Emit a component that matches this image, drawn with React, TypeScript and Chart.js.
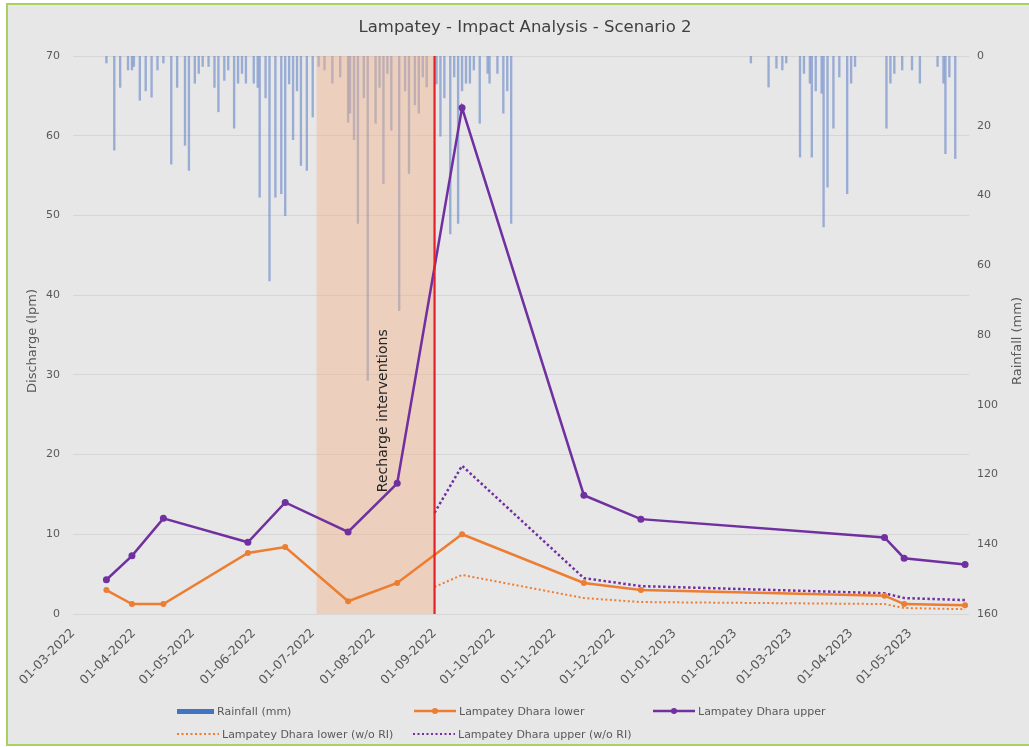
import React, { useEffect, useRef } from 'react';
import { Chart, registerables } from 'chart.js';

Chart.register(...registerables);

const FONT = '"DejaVu Sans", sans-serif';
const TEXT = '#595959';

// ---- data ----
const axisStart = '2022-03-01';
const axisEnd = '2023-05-31';

const xTickDates = [
  '2022-03-01', '2022-04-01', '2022-05-01', '2022-06-01', '2022-07-01', '2022-08-01',
  '2022-09-01', '2022-10-01', '2022-11-01', '2022-12-01', '2023-01-01', '2023-02-01',
  '2023-03-01', '2023-04-01', '2023-05-01',
];
const xTickLabels = [
  '01-03-2022', '01-04-2022', '01-05-2022', '01-06-2022', '01-07-2022', '01-08-2022',
  '01-09-2022', '01-10-2022', '01-11-2022', '01-12-2022', '01-01-2023', '01-02-2023',
  '01-03-2023', '01-04-2023', '01-05-2023',
];

const measureDates = [
  '2022-03-18', '2022-03-31', '2022-04-16', '2022-05-29', '2022-06-17', '2022-07-19',
  '2022-08-13', '2022-09-15', '2022-11-16', '2022-12-15', '2023-04-18', '2023-04-28',
  '2023-05-29',
];
const dharaLower = [3.0, 1.25, 1.25, 7.65, 8.4, 1.6, 3.9, 10.0, 3.9, 3.0, 2.3, 1.25, 1.1];
const dharaUpper = [4.3, 7.3, 12.0, 9.0, 14.0, 10.3, 16.4, 63.5, 14.9, 11.9, 9.6, 7.0, 6.2];

const noRiDates = [
  '2022-09-01', '2022-09-15', '2022-11-16', '2022-12-15', '2023-04-18', '2023-04-28', '2023-05-29',
];
const dharaLowerNoRi = [3.4, 4.9, 2.0, 1.5, 1.25, 0.75, 0.6];
const dharaUpperNoRi = [12.7, 18.6, 4.5, 3.5, 2.6, 2.0, 1.75];

const rechargeStart = '2022-07-03';
const rechargeEnd = '2022-09-01';
const rechargeLabel = 'Recharge interventions';

const rainDates = [
  '2022-03-18', '2022-03-22', '2022-03-25', '2022-03-29', '2022-03-31', '2022-04-01',
  '2022-04-04', '2022-04-07', '2022-04-10', '2022-04-13', '2022-04-16', '2022-04-20',
  '2022-04-23', '2022-04-27', '2022-04-29', '2022-05-02', '2022-05-04', '2022-05-06',
  '2022-05-09', '2022-05-12', '2022-05-14', '2022-05-17', '2022-05-19', '2022-05-22',
  '2022-05-24', '2022-05-26', '2022-05-28', '2022-06-01', '2022-06-03', '2022-06-04',
  '2022-06-07', '2022-06-09', '2022-06-12', '2022-06-15', '2022-06-17', '2022-06-19',
  '2022-06-21', '2022-06-23', '2022-06-25', '2022-06-28', '2022-07-01', '2022-07-04',
  '2022-07-07', '2022-07-11', '2022-07-15', '2022-07-19', '2022-07-20', '2022-07-22',
  '2022-07-24', '2022-07-27', '2022-07-29', '2022-08-02', '2022-08-04', '2022-08-06',
  '2022-08-08', '2022-08-10', '2022-08-14', '2022-08-17', '2022-08-19', '2022-08-22',
  '2022-08-24', '2022-08-26', '2022-08-28', '2022-09-02', '2022-09-04', '2022-09-06',
  '2022-09-09', '2022-09-11', '2022-09-13', '2022-09-15', '2022-09-17', '2022-09-19',
  '2022-09-21', '2022-09-24', '2022-09-28', '2022-09-29', '2022-10-03', '2022-10-06',
  '2022-10-08', '2022-10-10',
  '2023-02-09', '2023-02-18', '2023-02-22', '2023-02-25', '2023-02-27', '2023-03-06',
  '2023-03-08', '2023-03-11', '2023-03-12', '2023-03-14', '2023-03-17', '2023-03-18',
  '2023-03-20', '2023-03-23', '2023-03-26', '2023-03-30', '2023-04-01', '2023-04-03',
  '2023-04-19', '2023-04-21', '2023-04-23', '2023-04-27', '2023-05-02', '2023-05-06',
  '2023-05-15', '2023-05-18', '2023-05-19', '2023-05-21', '2023-05-24',
];
const rainMm = [
  2, 27, 9, 4, 4, 3,
  12.7, 10, 11.8, 4, 2, 31,
  9, 25.6, 32.8, 7.8, 5, 3,
  3, 9, 16, 7, 4, 20.7,
  7.8, 5, 7.8, 7.8, 9, 40.5,
  12, 64.5, 40.5, 39.5, 45.8, 8,
  24, 10, 31.4, 32.8, 17.5, 3,
  4, 7.8, 6, 19, 16.4, 24,
  48, 12, 93, 19.3, 9, 36.6,
  5, 21.3, 73, 10, 33.7, 14,
  16.4, 6, 8.9, 8, 23, 12,
  51, 6, 48, 10, 7.8, 7.8,
  4, 19.3, 5, 7.8, 5, 16.4,
  10, 48,
  2, 8.9, 3.5, 4, 2, 29,
  5, 7.8, 29, 10, 10.7, 49,
  37.6, 20.7, 6, 39.5, 7.8, 3,
  20.7, 7.8, 5, 4, 4, 7.8,
  3, 7.8, 28, 6, 29.4,
];

const leftTicks = { min: 0, max: 70, step: 10 };
const rightTicks = { min: 0, max: 160, step: 20 };

// ---- helpers ----
const DAY = 86400000;
const ORIGIN = Date.UTC(2022, 2, 1);
function dayOf(s: string): number {
  const [y, m, d] = s.split('-').map(Number);
  return (Date.UTC(y, m - 1, d) - ORIGIN) / DAY;
}
const pts = (dates: string[], vals: number[]) => dates.map((d, i) => ({ x: dayOf(d), y: vals[i] }));

const ORANGE = '#ED7D31';
const PURPLE = '#7030A0';
const BLUE = '#4472C4';

const overlayPlugin = {
  id: 'overlay',
  afterDatasetDraw(chart: any, args: any) {
    if (args.index !== 0) return;
    const { ctx, chartArea: a, scales } = chart;
    const x0 = scales.x.getPixelForValue(dayOf(rechargeStart));
    const x1 = scales.x.getPixelForValue(dayOf(rechargeEnd));
    ctx.save();
    ctx.fillStyle = 'rgba(244, 177, 131, 0.42)';
    ctx.fillRect(x0, a.top, x1 - x0, a.bottom - a.top);
    ctx.restore();
  },
  afterDatasetsDraw(chart: any) {
    const { ctx, chartArea: a, scales } = chart;
    const xr = scales.x.getPixelForValue(dayOf(rechargeEnd));
    ctx.save();
    ctx.strokeStyle = '#E5202A';
    ctx.lineWidth = 2.2;
    ctx.beginPath();
    ctx.moveTo(xr, a.top);
    ctx.lineTo(xr, a.bottom);
    ctx.stroke();
    ctx.translate(xr - 51, scales.y.getPixelForValue(25.5));
    ctx.rotate(-Math.PI / 2);
    ctx.fillStyle = '#262626';
    ctx.font = `14px ${FONT}`;
    ctx.textAlign = 'center';
    ctx.textBaseline = 'middle';
    ctx.fillText(rechargeLabel, 0, 0);
    ctx.restore();
  },
  afterDraw(chart: any) {
    const { ctx, chartArea: a } = chart;
    const cy = (a.top + a.bottom) / 2 + 6;
    const drawTitle = (text: string, x: number) => {
      ctx.save();
      ctx.fillStyle = TEXT;
      ctx.font = `13px ${FONT}`;
      ctx.textAlign = 'center';
      ctx.textBaseline = 'middle';
      ctx.translate(x, cy);
      ctx.rotate(-Math.PI / 2);
      ctx.fillText(text, 0, 0);
      ctx.restore();
    };
    drawTitle('Discharge (lpm)', 33);
    drawTitle('Rainfall (mm)', 1018);
  },
};

function LegendLine({ color, dotted, marker }: { color: string; dotted?: boolean; marker?: boolean }) {
  return (
    <svg width={42} height={10} style={{ display: 'block' }}>
      <line
        x1={0}
        y1={5}
        x2={42}
        y2={5}
        stroke={color}
        strokeWidth={dotted ? 2 : 2.5}
        strokeDasharray={dotted ? '2 2.5' : undefined}
      />
      {marker && <circle cx={21} cy={5} r={3} fill={color} />}
    </svg>
  );
}

const legendText: React.CSSProperties = {
  fontFamily: FONT,
  fontSize: 11,
  color: TEXT,
  marginLeft: 3,
  whiteSpace: 'nowrap',
};

function LegendItem({ left, top, swatch, label }: { left: number; top: number; swatch: React.ReactNode; label: string }) {
  return (
    <div style={{ position: 'absolute', left, top: top - 8, height: 16, display: 'flex', alignItems: 'center' }}>
      {swatch}
      <span style={legendText}>{label}</span>
    </div>
  );
}

export default function App() {
  const ref = useRef<HTMLCanvasElement | null>(null);

  useEffect(() => {
    if (!ref.current) return;
    const chart = new Chart(ref.current, {
      type: 'line',
      data: {
        datasets: [
          {
            type: 'bar',
            label: 'Rainfall (mm)',
            data: pts(rainDates, rainMm),
            yAxisID: 'y1',
            backgroundColor: 'rgba(105, 135, 200, 0.62)',
            borderWidth: 0,
            barThickness: 1.7,
            grouped: false,
            order: 10,
          } as any,
          {
            label: 'Lampatey Dhara lower (w/o RI)',
            data: pts(noRiDates, dharaLowerNoRi),
            yAxisID: 'y',
            borderColor: ORANGE,
            borderWidth: 2,
            borderDash: [2, 2.5],
            pointRadius: 0,
            order: 3,
          },
          {
            label: 'Lampatey Dhara upper (w/o RI)',
            data: pts(noRiDates, dharaUpperNoRi),
            yAxisID: 'y',
            borderColor: PURPLE,
            borderWidth: 2.5,
            borderDash: [2.5, 2.5],
            pointRadius: 0,
            order: 2,
          },
          {
            label: 'Lampatey Dhara lower',
            data: pts(measureDates, dharaLower),
            yAxisID: 'y',
            borderColor: ORANGE,
            backgroundColor: ORANGE,
            borderWidth: 2.5,
            pointRadius: 3,
            pointBorderWidth: 0,
            order: 1,
          },
          {
            label: 'Lampatey Dhara upper',
            data: pts(measureDates, dharaUpper),
            yAxisID: 'y',
            borderColor: PURPLE,
            backgroundColor: PURPLE,
            borderWidth: 2.5,
            pointRadius: 3.5,
            pointBorderWidth: 0,
            order: 0,
          },
        ],
      },
      options: {
        animation: false,
        responsive: false,
        devicePixelRatio: 1,
        layout: { padding: { top: 56, bottom: 0, left: 0, right: 0 } },
        plugins: { legend: { display: false }, tooltip: { enabled: false }, title: { display: false } },
        scales: {
          x: {
            type: 'linear',
            min: dayOf(axisStart),
            max: dayOf(axisEnd),
            offset: false,
            grid: { display: false, offset: false },
            border: { display: false },
            afterBuildTicks: (scale: any) => {
              scale.ticks = xTickDates.map((d) => ({ value: dayOf(d) }));
            },
            afterFit: (scale: any) => {
              scale.height = 133;
            },
            ticks: {
              autoSkip: false,
              minRotation: 45,
              maxRotation: 45,
              padding: 4,
              color: TEXT,
              font: { family: FONT, size: 12.5 },
              callback: (_v: any, i: number) => xTickLabels[i],
            },
          },
          y: {
            position: 'left',
            min: leftTicks.min,
            max: leftTicks.max,
            grid: { color: '#d6d6d6', drawTicks: false },
            border: { display: false },
            afterFit: (scale: any) => {
              scale.width = 73;
            },
            ticks: {
              stepSize: leftTicks.step,
              padding: 13,
              color: TEXT,
              font: { family: FONT, size: 11 },
            },
          },
          y1: {
            position: 'right',
            reverse: true,
            min: rightTicks.min,
            max: rightTicks.max,
            grid: { display: false, drawTicks: false },
            border: { display: false },
            afterFit: (scale: any) => {
              scale.width = 60;
            },
            ticks: {
              stepSize: rightTicks.step,
              padding: 8,
              color: TEXT,
              font: { family: FONT, size: 11 },
            },
          },
        },
      } as any,
      plugins: [overlayPlugin],
    });
    return () => chart.destroy();
  }, []);

  return (
    <div style={{ position: 'absolute', left: 0, top: 0, width: 1029, height: 747, background: '#ffffff', overflow: 'hidden' }}>
      <div
        style={{
          position: 'absolute',
          left: 6,
          top: 3,
          width: 1040,
          height: 739,
          background: '#e7e7e7',
          border: '2px solid #a9d162',
        }}
      />
      <canvas ref={ref} width={1029} height={747} style={{ position: 'absolute', left: 0, top: 0, width: 1029, height: 747 }} />
      <div
        style={{
          position: 'absolute',
          left: 525,
          top: 17,
          transform: 'translateX(-50%)',
          fontFamily: FONT,
          fontSize: 16.5,
          lineHeight: '20px',
          color: '#404040',
          whiteSpace: 'nowrap',
        }}
      >
        Lampatey - Impact Analysis - Scenario 2
      </div>
      <LegendItem
        left={177}
        top={711}
        swatch={<div style={{ width: 37, height: 5, background: BLUE }} />}
        label="Rainfall (mm)"
      />
      <LegendItem left={414} top={711} swatch={<LegendLine color={ORANGE} marker />} label="Lampatey Dhara lower" />
      <LegendItem left={653} top={711} swatch={<LegendLine color={PURPLE} marker />} label="Lampatey Dhara upper" />
      <LegendItem left={177} top={734} swatch={<LegendLine color={ORANGE} dotted />} label="Lampatey Dhara lower (w/o RI)" />
      <LegendItem left={413} top={734} swatch={<LegendLine color={PURPLE} dotted />} label="Lampatey Dhara upper (w/o RI)" />
    </div>
  );
}
